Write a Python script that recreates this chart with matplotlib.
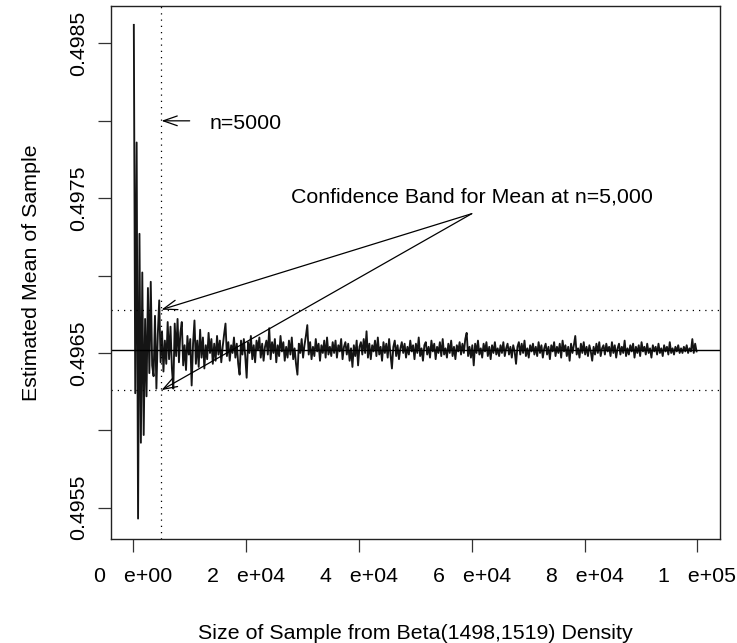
import numpy as np
import matplotlib
matplotlib.use('Agg')
import matplotlib.pyplot as plt

# sample sizes and the estimated mean at each one
sample_size = np.arange(100, 100000, 250)
est_mean = [
    0.49862, 0.49624, 0.49786, 0.49543, 0.49727, 0.49592, 0.49702, 0.49597, 0.49672, 0.49622,
    0.49692, 0.49637, 0.49696, 0.49642, 0.49635, 0.49674, 0.49627, 0.49662, 0.49684, 0.49644,
    0.49664, 0.49638, 0.49658, 0.49643, 0.49670, 0.49646, 0.49667, 0.49640, 0.49627, 0.49669,
    0.49648, 0.49672, 0.49644, 0.49663, 0.49670, 0.49642, 0.49655, 0.49639, 0.49661, 0.49649,
    0.49659, 0.49629, 0.49656, 0.49671, 0.49643, 0.49658, 0.49641, 0.49665, 0.49647, 0.49660,
    0.49640, 0.49655, 0.49646, 0.49663, 0.49650, 0.49659, 0.49643, 0.49656, 0.49645, 0.49661,
    0.49649, 0.49658, 0.49644, 0.49654, 0.49662, 0.49669, 0.49648, 0.49657, 0.49645, 0.49655,
    0.49650, 0.49660, 0.49647, 0.49656, 0.49643, 0.49636, 0.49658, 0.49649, 0.49659, 0.49648,
    0.49634, 0.49657, 0.49650, 0.49661, 0.49646, 0.49655, 0.49644, 0.49658, 0.49652, 0.49660,
    0.49647, 0.49656, 0.49645, 0.49654, 0.49658, 0.49649, 0.49666, 0.49646, 0.49657, 0.49650,
    0.49659, 0.49644, 0.49655, 0.49648, 0.49661, 0.49651, 0.49657, 0.49645, 0.49654, 0.49647,
    0.49658, 0.49649, 0.49660, 0.49646, 0.49653, 0.49643, 0.49636, 0.49656, 0.49650, 0.49659,
    0.49647, 0.49655, 0.49661, 0.49668, 0.49649, 0.49657, 0.49646, 0.49654, 0.49648, 0.49659,
    0.49651, 0.49656, 0.49645, 0.49655, 0.49650, 0.49658, 0.49647, 0.49660, 0.49649, 0.49654,
    0.49648, 0.49657, 0.49650, 0.49658, 0.49647, 0.49655, 0.49651, 0.49659, 0.49646, 0.49654,
    0.49657, 0.49649, 0.49656, 0.49645, 0.49653, 0.49641, 0.49655, 0.49648, 0.49658, 0.49642,
    0.49654, 0.49657, 0.49649, 0.49659, 0.49650, 0.49664, 0.49647, 0.49656, 0.49646, 0.49655,
    0.49651, 0.49658, 0.49648, 0.49660, 0.49649, 0.49654, 0.49645, 0.49657, 0.49650, 0.49656,
    0.49647, 0.49659, 0.49649, 0.49640, 0.49654, 0.49658, 0.49648, 0.49655, 0.49646, 0.49653,
    0.49657, 0.49650, 0.49656, 0.49647, 0.49654, 0.49649, 0.49658, 0.49651, 0.49655, 0.49646,
    0.49656, 0.49650, 0.49660, 0.49648, 0.49653, 0.49645, 0.49655, 0.49657, 0.49649, 0.49654,
    0.49647, 0.49658, 0.49651, 0.49656, 0.49646, 0.49654, 0.49650, 0.49657, 0.49648, 0.49659,
    0.49649, 0.49653, 0.49647, 0.49656, 0.49650, 0.49658, 0.49648, 0.49654, 0.49646, 0.49655,
    0.49651, 0.49657, 0.49649, 0.49656, 0.49650, 0.49659, 0.49663, 0.49648, 0.49654, 0.49647,
    0.49655, 0.49642, 0.49656, 0.49650, 0.49658, 0.49649, 0.49653, 0.49647, 0.49656, 0.49651,
    0.49657, 0.49648, 0.49654, 0.49646, 0.49655, 0.49650, 0.49657, 0.49649, 0.49653, 0.49648,
    0.49655, 0.49650, 0.49657, 0.49648, 0.49653, 0.49656, 0.49649, 0.49654, 0.49647, 0.49655,
    0.49651, 0.49643, 0.49654, 0.49657, 0.49649, 0.49656, 0.49650, 0.49658, 0.49648, 0.49653,
    0.49647, 0.49655, 0.49651, 0.49656, 0.49649, 0.49654, 0.49648, 0.49657, 0.49650, 0.49655,
    0.49647, 0.49653, 0.49656, 0.49649, 0.49654, 0.49646, 0.49655, 0.49651, 0.49657, 0.49648,
    0.49654, 0.49650, 0.49656, 0.49647, 0.49658, 0.49651, 0.49655, 0.49648, 0.49654, 0.49645,
    0.49656, 0.49650, 0.49655, 0.49661, 0.49649, 0.49653, 0.49647, 0.49656, 0.49650, 0.49657,
    0.49649, 0.49654, 0.49648, 0.49655, 0.49651, 0.49645, 0.49654, 0.49649, 0.49656, 0.49650,
    0.49657, 0.49648, 0.49653, 0.49655, 0.49649, 0.49656, 0.49651, 0.49654, 0.49648, 0.49657,
    0.49650, 0.49655, 0.49647, 0.49653, 0.49656, 0.49649, 0.49654, 0.49650, 0.49658, 0.49648,
    0.49653, 0.49649, 0.49655, 0.49651, 0.49656, 0.49647, 0.49654, 0.49650, 0.49655, 0.49648,
    0.49657, 0.49651, 0.49654, 0.49649, 0.49656, 0.49650, 0.49653, 0.49647, 0.49655, 0.49651,
    0.49654, 0.49649, 0.49656, 0.49650, 0.49653, 0.49648, 0.49655, 0.49651, 0.49654, 0.49649,
    0.49657, 0.49650, 0.49653, 0.49649, 0.49654, 0.49651, 0.49655, 0.49650, 0.49653, 0.49650,
    0.49654, 0.49651, 0.49655, 0.49650, 0.49653, 0.49651, 0.49659, 0.49650, 0.49656, 0.49651,
]

true_mean = 0.49652
band_upper = 0.49678
band_lower = 0.49626
n_mark = 5000

y_ticks = [0.4955, 0.4960, 0.4965, 0.4970, 0.4975, 0.4980, 0.4985]
y_tick_labels = ['0.4955', '', '0.4965', '', '0.4975', '', '0.4985']
x_ticks = [0, 20000, 40000, 60000, 80000, 100000]
x_tick_labels = ['0   e+00', '2   e+04', '4   e+04', '6   e+04', '8   e+04', '1   e+05']

plt.rcParams['font.family'] = 'Liberation Sans'
plt.rcParams['font.size'] = 15.4

fig = plt.figure(figsize=(7.37, 6.43), dpi=100)
ax = fig.add_axes([0.1502, 0.1622, 0.8267, 0.828])

dots = (0, (1, 4))
ax.plot(sample_size, est_mean, color='#151515', linewidth=1.35)
ax.axhline(true_mean, color='black', linewidth=1.0)
ax.axhline(band_upper, color='black', linewidth=0.9, linestyle=dots)
ax.axhline(band_lower, color='black', linewidth=0.9, linestyle=dots)
ax.axvline(n_mark, color='black', linewidth=0.9, linestyle=dots)

arrow = dict(arrowstyle='->,head_length=1.0,head_width=0.35', color='black',
             linewidth=0.9, shrinkA=0, shrinkB=0, mutation_scale=10)
ax.annotate('', xy=(n_mark, 0.4980), xytext=(10000, 0.4980), arrowprops=arrow)
ax.text(20000, 0.49798, 'n=5000', ha='center', va='center')

ax.text(60000, 0.49751, 'Confidence Band for Mean at n=5,000', ha='center', va='center')
ax.annotate('', xy=(n_mark, band_upper), xytext=(60000, 0.49740), arrowprops=arrow)
ax.annotate('', xy=(n_mark, band_lower), xytext=(60000, 0.49740), arrowprops=arrow)

ax.set_xlim(-4000, 104000)
ax.set_ylim(0.49530, 0.49874)
ax.set_xticks(x_ticks)
ax.set_xticklabels(x_tick_labels)
ax.set_yticks(y_ticks)
ax.set_yticklabels(y_tick_labels, rotation=90, va='center')
ax.tick_params(axis='both', length=9.6, width=0.9, color='#333333')
ax.tick_params(axis='x', pad=11)
ax.tick_params(axis='y', pad=7)
for s in ax.spines.values():
    s.set_linewidth(1.0)
    s.set_color('#222222')

ax.set_xlabel('Size of Sample from Beta(1498,1519) Density', labelpad=27)
ax.set_ylabel('Estimated Mean of Sample', labelpad=20)

fig.savefig('out.png', dpi=100)
